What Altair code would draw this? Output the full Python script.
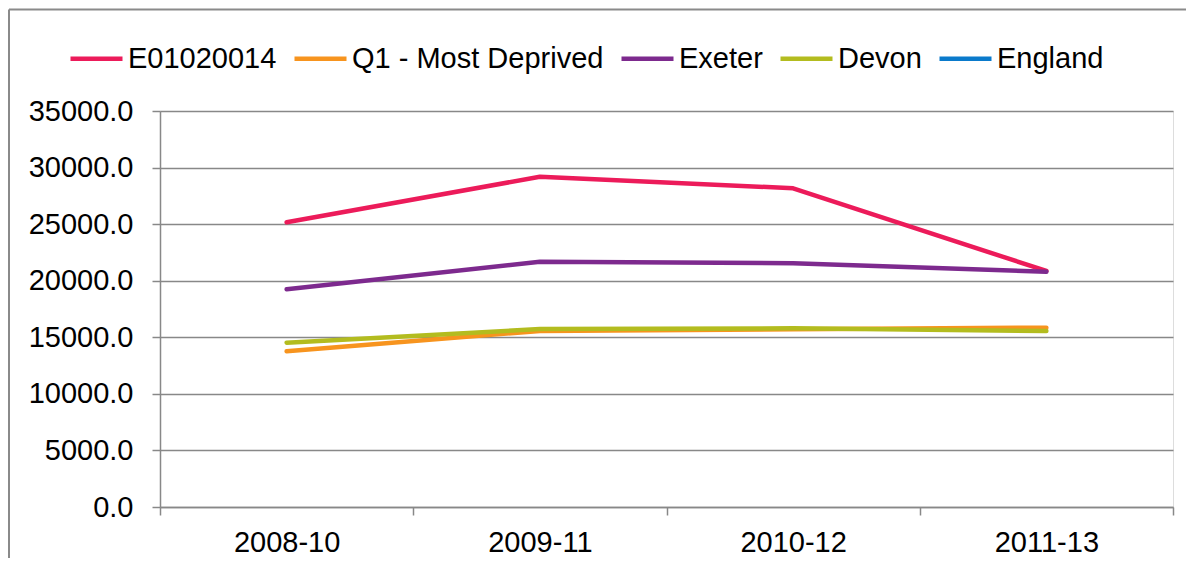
import altair as alt
import pandas as pd

periods = ["2008-10", "2009-11", "2010-12", "2011-13"]
series_names = ["E01020014", "Q1 - Most Deprived", "Exeter", "Devon", "England"]
series_colors = ["#EC1B5A", "#F7941E", "#7D2A8E", "#B3BC1F", "#0A7ACB"]

e01020014 = [25160, 29190, 28170, 20860]
q1_most_deprived = [13760, 15560, 15700, 15850]
exeter = [19240, 21680, 21540, 20800]
devon = [14520, 15730, 15790, 15560]
england = [None, None, None, None]

y_ticks = [0, 5000, 10000, 15000, 20000, 25000, 30000, 35000]

values_by_series = [e01020014, q1_most_deprived, exeter, devon, england]
rows = []
for name, vals in zip(series_names, values_by_series):
    for p, v in zip(periods, vals):
        rows.append({"period": p, "series": name, "value": v})
df = pd.DataFrame(rows)

FONT = "Liberation Sans"
GRAY = "#888888"

lines = alt.Chart(df).mark_line(strokeWidth=4.5, strokeCap="round", strokeJoin="round").encode(
    x=alt.X(
        "period:N",
        sort=periods,
        bandPosition=0.5,
        scale=alt.Scale(type="band", paddingInner=0, paddingOuter=0),
        axis=alt.Axis(
            title=None, labelAngle=0, tickBand="extent", tickSize=8, tickColor=GRAY,
            tickWidth=1.5, domainColor=GRAY, domainWidth=1.5, labelPadding=13,
            labelFontSize=29, labelFont=FONT, labelColor="#000000", grid=False,
        ),
    ),
    y=alt.Y(
        "value:Q",
        scale=alt.Scale(domain=[0, 35000], nice=False),
        axis=alt.Axis(
            title=None, values=y_ticks, format=".1f", tickSize=8, tickColor=GRAY,
            tickWidth=1.5, domainColor=GRAY, domainWidth=1.5, labelPadding=19,
            labelFontSize=29, labelFont=FONT, labelColor="#000000",
            grid=True, gridColor=GRAY, gridWidth=1.5,
        ),
    ),
    color=alt.Color(
        "series:N",
        sort=series_names,
        scale=alt.Scale(domain=series_names, range=series_colors),
        legend=alt.Legend(
            title=None, orient="none", legendX=-92, legendY=-81, direction="horizontal",
            symbolType="stroke", symbolSize=2704, symbolStrokeWidth=4.5,
            labelFontSize=29, labelFont=FONT, labelColor="#000000", labelOffset=3,
            columnPadding=8, labelLimit=500, padding=0,
        ),
    ),
    order=alt.value(0),
)

frame_src = pd.DataFrame({"a": [0]})
frame_left = alt.Chart(frame_src).mark_rule(stroke="#8A8A8A", strokeWidth=2).encode(
    x=alt.value(-151), y=alt.value(-101.5), y2=alt.value(450)
)
frame_top = alt.Chart(frame_src).mark_rule(stroke="#8A8A8A", strokeWidth=2).encode(
    x=alt.value(-151), x2=alt.value(1026), y=alt.value(-101.5)
)

chart = alt.layer(frame_left, frame_top, lines).properties(
    width=1013, height=396,
    autosize=alt.AutoSizeParams(type="none"),
    padding={"left": 152, "top": 103, "right": 13, "bottom": 51},
).configure_view(stroke=None).configure(background="white")

chart.save("out.html", embed_options={"renderer": "svg", "actions": False})
